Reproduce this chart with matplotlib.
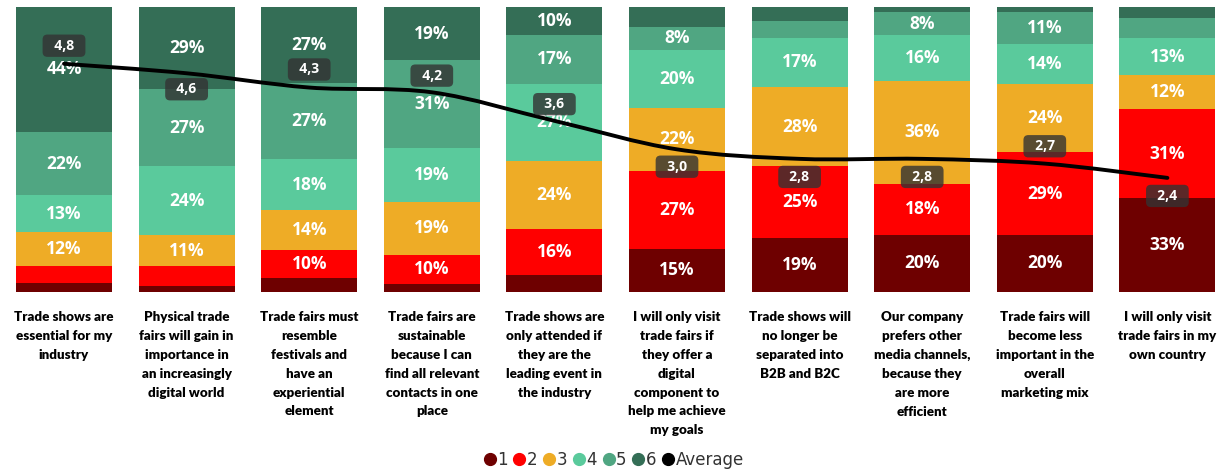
import numpy as np
import matplotlib.pyplot as plt
import matplotlib.transforms as mtransforms
from matplotlib.lines import Line2D
from matplotlib.path import Path
from matplotlib.patches import PathPatch

# survey statements (x axis)
statements = [
    "Trade shows are\nessential for my\nindustry",
    "Physical trade\nfairs will gain in\nimportance in\nan increasingly\ndigital world",
    "Trade fairs must\nresemble\nfestivals and\nhave an\nexperiential\nelement",
    "Trade fairs are\nsustainable\nbecause I can\nfind all relevant\ncontacts in one\nplace",
    "Trade shows are\nonly attended if\nthey are the\nleading event in\nthe industry",
    "I will only visit\ntrade fairs if\nthey offer a\ndigital\ncomponent to\nhelp me achieve\nmy goals",
    "Trade shows will\nno longer be\nseparated into\nB2B and B2C",
    "Our company\nprefers other\nmedia channels,\nbecause they\nare more\nefficient",
    "Trade fairs will\nbecome less\nimportant in the\noverall\nmarketing mix",
    "I will only visit\ntrade fairs in my\nown country",
]

# share of answers per rating (percent, rounded)
rating_1 = [3, 2, 5, 3, 6, 15, 19, 20, 20, 33]
rating_2 = [6, 7, 10, 10, 16, 27, 25, 18, 29, 31]
rating_3 = [12, 11, 14, 19, 24, 22, 28, 36, 24, 12]
rating_4 = [13, 24, 18, 19, 27, 20, 17, 16, 14, 13]
rating_5 = [22, 27, 27, 31, 17, 8, 6, 8, 11, 7]
rating_6 = [44, 29, 27, 19, 10, 7, 5, 2, 2, 4]
average = [4.8, 4.6, 4.3, 4.2, 3.6, 3.0, 2.8, 2.8, 2.7, 2.4]

ratings = [rating_1, rating_2, rating_3, rating_4, rating_5, rating_6]
rating_names = ["1", "2", "3", "4", "5", "6"]
colors = ["#6E0000", "#FF0000", "#EEAC26", "#5ACA9C", "#50A682", "#346E56"]

# where the average label sits relative to the line (points)
avg_offsets = [13, -11.5, 13, 12, 12, -12.5, -13, -13, 12.5, -13]

W, H = 1231, 472
fig = plt.figure(figsize=(W / 100, H / 100), dpi=100)
ax = fig.add_axes([2.7 / W, (H - 292) / H, 1226 / W, 285.3 / H])

x = np.arange(len(statements))
data = np.array(ratings, dtype=float)
totals = data.sum(axis=0)

# 100% stacked columns
bottom = np.zeros(len(statements))
for vals, col in zip(data, colors):
    share = vals / totals * 100
    ax.bar(x, share, bottom=bottom, width=0.783, color=col, linewidth=0)
    for xi, b, s, v in zip(x, bottom, share, vals):
        if v >= 8:
            ax.text(xi, b + s / 2, f"{int(v)}%", ha="center", va="center",
                    color="white", fontsize=12.5, fontweight="bold",
                    family="Open Sans")
    bottom += share

ax.set_xlim(-0.5, len(statements) - 0.5)
ax.set_ylim(0, 100)
ax.axis("off")

# average on a 0..6 scale, drawn as a smooth curve through the points
ax2 = ax.twinx()
ax2.set_ylim(0, 6)
ax2.axis("off")
pts = np.column_stack([x, average]).astype(float)
ext = np.vstack([pts[0], pts, pts[-1]])
verts = [pts[0]]
codes = [Path.MOVETO]
for i in range(len(pts) - 1):
    p0, p1, p2, p3 = ext[i], ext[i + 1], ext[i + 2], ext[i + 3]
    verts += [p1 + (p2 - p0) / 6, p2 - (p3 - p1) / 6, p2]
    codes += [Path.CURVE4] * 3
ax2.add_patch(PathPatch(Path(verts, codes), fc="none", ec="black", lw=2.8,
                        capstyle="round", joinstyle="round", zorder=5))
ax2.set_xlim(ax.get_xlim())

for xi, a, off in zip(x, average, avg_offsets):
    ax2.annotate("  " + f"{a:.1f}".replace(".", ",") + "  ", (xi, a),
                 xytext=(0, off), textcoords="offset points", ha="center",
                 va="center", color="white", fontsize=10, fontweight="bold",
                 family="Open Sans",
                 bbox=dict(boxstyle="round,pad=0.3,rounding_size=0.35",
                           fc="#333333", ec="none", alpha=0.8),
                 zorder=6)

# statement labels under the bars
trans = mtransforms.blended_transform_factory(ax.transData, ax.transAxes)
for xi, s in zip(x, statements):
    ax.text(xi, -0.068, s, transform=trans, ha="center", va="top",
            fontsize=9.6, fontweight="heavy", family="Lato",
            linespacing=1.68, color="black")

handles = [Line2D([], [], marker="o", ls="none", color=c, markersize=8.5)
           for c in colors]
handles.append(Line2D([], [], marker="o", ls="none", color="black", markersize=8.5))
fig.legend(handles, rating_names + ["Average"], loc="center",
           bbox_to_anchor=(613 / W, 1 - 460 / H), ncol=7, frameon=False,
           handletextpad=0.0, columnspacing=0.25, handlelength=0.9,
           fontsize=12, labelcolor="#333333")

fig.savefig("out.png", dpi=100)
